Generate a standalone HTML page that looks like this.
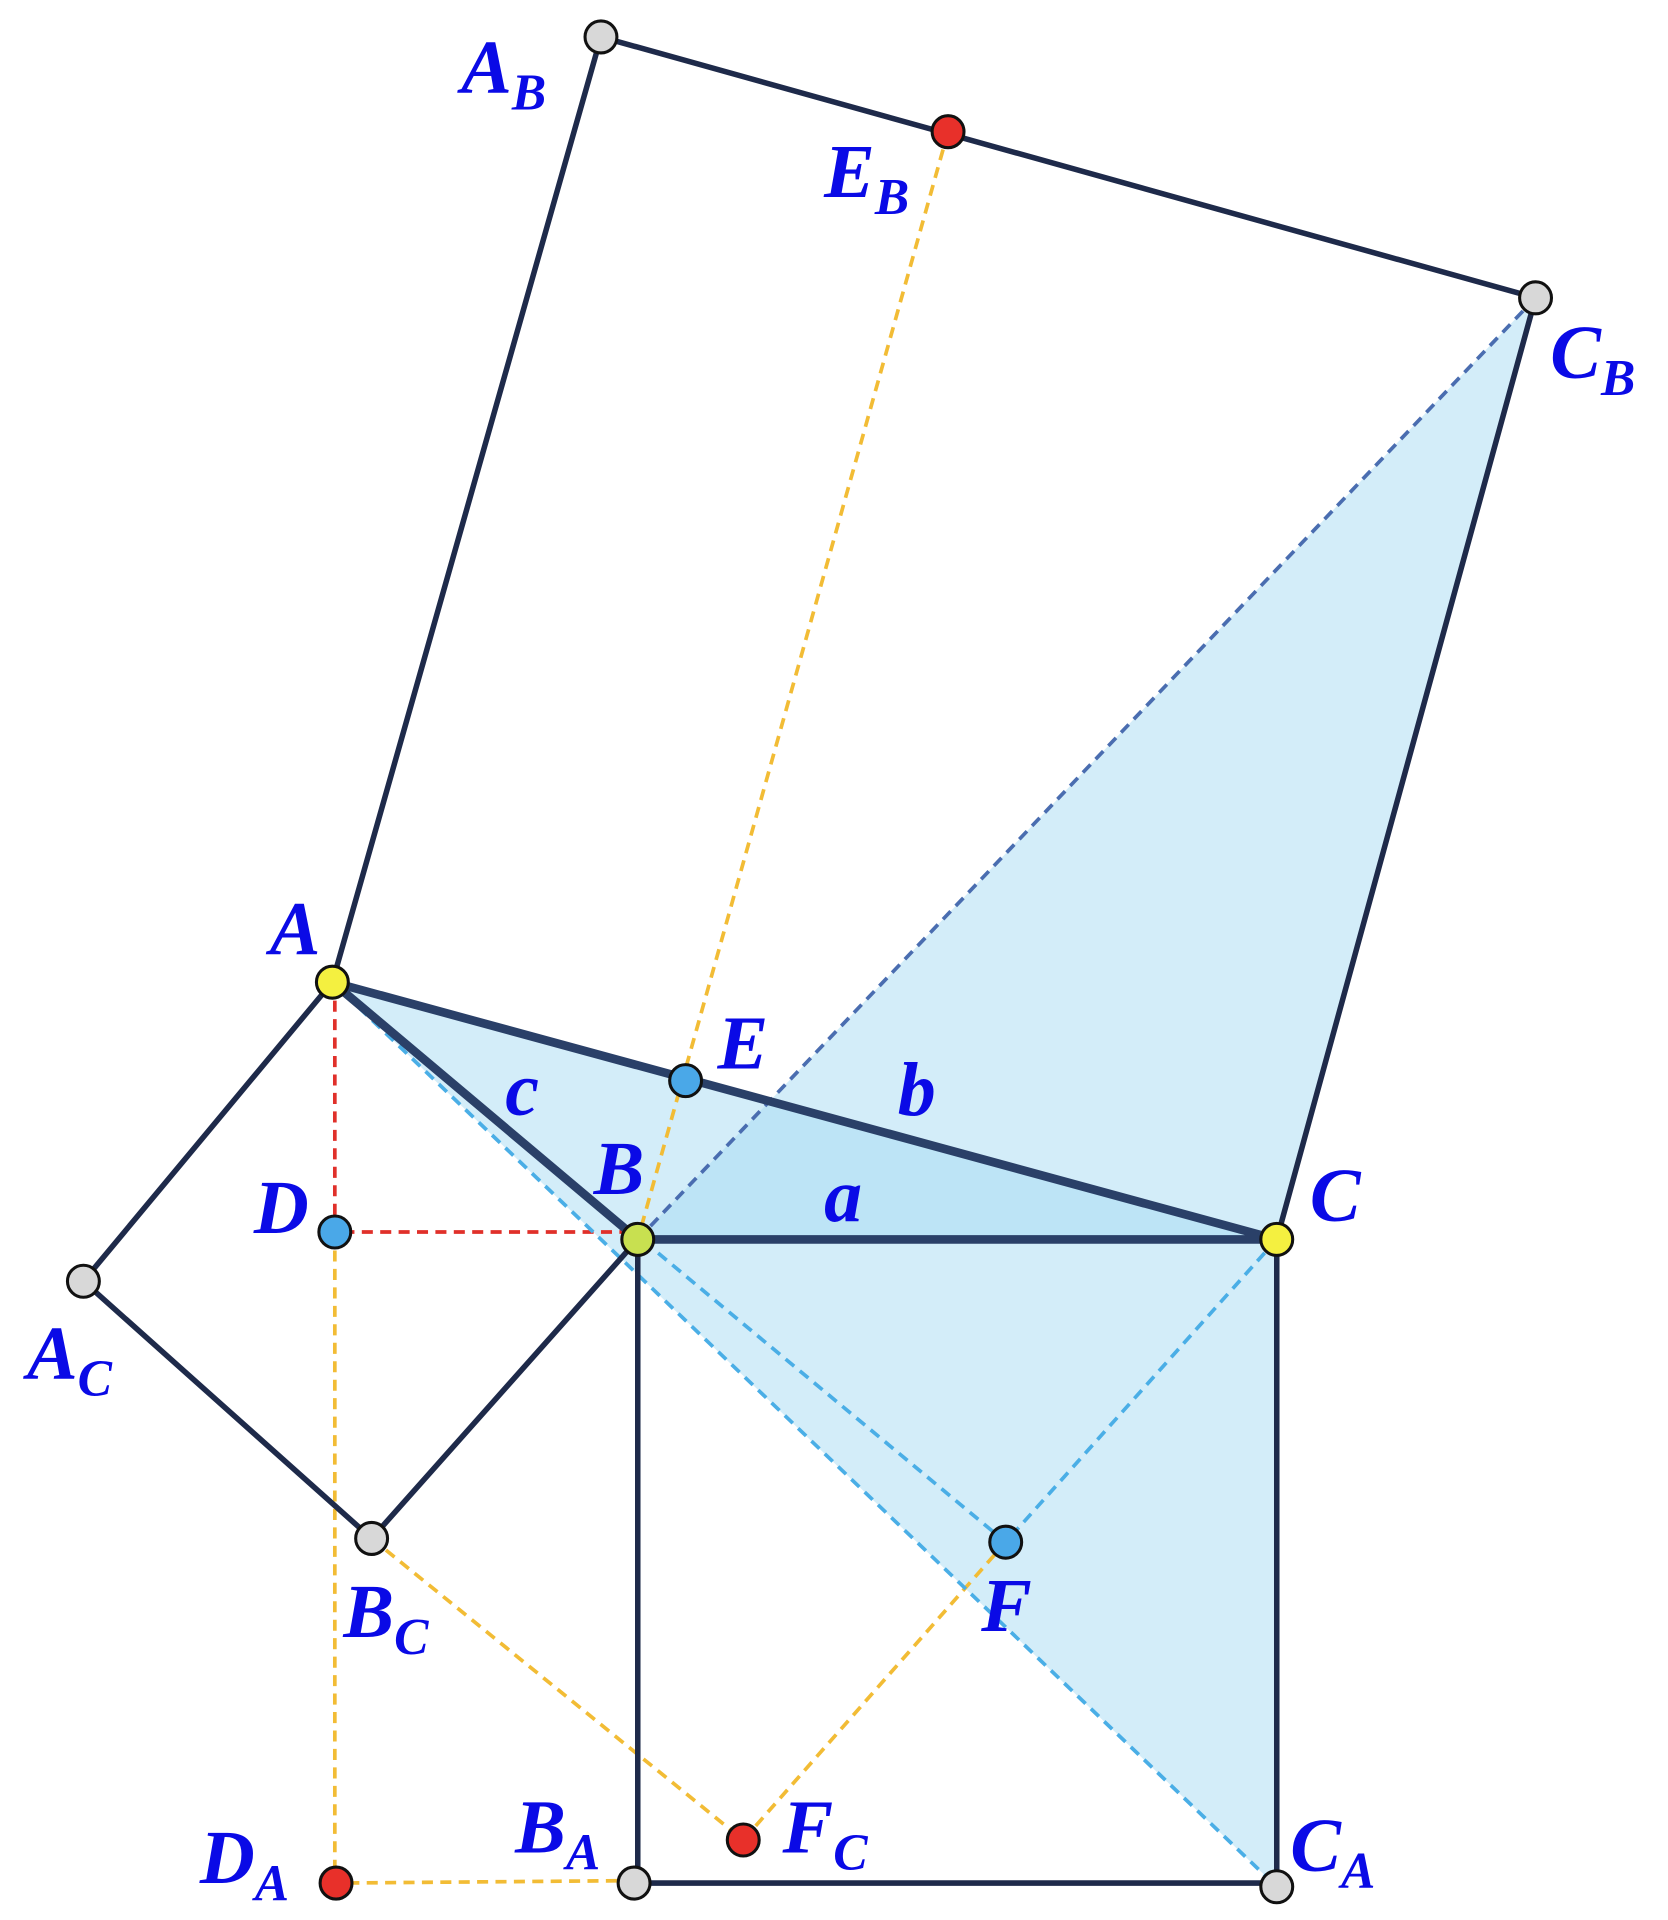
<!DOCTYPE html>
<html><head><style>html,body{margin:0;padding:0;background:#fff}svg{display:block}
text{font-family:"Liberation Serif",serif;font-style:italic;font-weight:bold;fill:#0a0ae6;font-size:62px}
tspan.s{font-size:42px}</style></head><body>
<svg width="1668" height="1920" viewBox="0 0 1360 1560" preserveAspectRatio="none" xmlns="http://www.w3.org/2000/svg">
<g fill="#a8dcf4" fill-opacity="0.5" stroke="none">
<polygon points="520,1007 1252,242 1041,1007"/>
<polygon points="271,798 1041,1007 1041,1533"/>
</g>
<g fill="none" stroke-dasharray="9,6" stroke-width="3">
<path d="M273,798 V1001 H520" stroke="#e0302a"/>
<path d="M273,1001 V1530 L517,1528 M303,1250 L606,1495 L820,1253 M773,107 L520,1007" stroke="#f2bc35"/>
<path d="M520,1007 L1252,242" stroke="#4a6db0"/>
<path d="M271,798 L820,1253 L1041,1007 M271,798 L1041,1533" stroke="#4aaee6"/>
</g>
<g fill="none" stroke="#1e2a4a" stroke-width="4.5" stroke-linejoin="round">
<path d="M271,798 L490,30 L1252,242 L1041,1007"/>
<path d="M271,798 L68,1041 L303,1250 L520,1007"/>
<path d="M520,1007 V1530 H1041 V1007"/>
</g>
<path d="M520,1007 L271,798 L1041,1007 Z" fill="none" stroke="#2a4068" stroke-width="7" stroke-linejoin="round"/>
<g stroke="#111" stroke-width="2.5">
<circle cx="490" cy="30" r="13" fill="#d8d8d8"/>
<circle cx="1252" cy="242" r="13" fill="#d8d8d8"/>
<circle cx="68" cy="1041" r="13" fill="#d8d8d8"/>
<circle cx="303" cy="1250" r="13" fill="#d8d8d8"/>
<circle cx="517" cy="1530" r="13" fill="#d8d8d8"/>
<circle cx="1041" cy="1533" r="13" fill="#d8d8d8"/>
<circle cx="773" cy="107" r="13" fill="#e8302a"/>
<circle cx="606" cy="1495" r="13" fill="#e8302a"/>
<circle cx="274" cy="1530" r="13" fill="#e8302a"/>
<circle cx="559" cy="878" r="13" fill="#4aa8e8"/>
<circle cx="273" cy="1001" r="13" fill="#4aa8e8"/>
<circle cx="820" cy="1253" r="13" fill="#4aa8e8"/>
<circle cx="271" cy="798" r="13" fill="#f4f040"/>
<circle cx="1041" cy="1007" r="13" fill="#f4f040"/>
<circle cx="520" cy="1007" r="13" fill="#c8e050"/>
</g>
<text x="376" y="75">A<tspan class="s" dy="14">B</tspan></text>
<text x="672" y="160">E<tspan class="s" dy="14">B</tspan></text>
<text x="1264" y="307">C<tspan class="s" dy="14">B</tspan></text>
<text x="220" y="775">A</text>
<text x="585" y="868">E</text>
<text x="732" y="906">b</text>
<text x="412" y="906">c</text>
<text x="484" y="970">B</text>
<text x="672" y="992">a</text>
<text x="1068" y="992">C</text>
<text x="207" y="1002">D</text>
<text x="22" y="1120">A<tspan class="s" dy="14">C</tspan></text>
<text x="280" y="1330">B<tspan class="s" dy="14">C</tspan></text>
<text x="800" y="1325">F</text>
<text x="638" y="1505">F<tspan class="s" dy="14">C</tspan></text>
<text x="420" y="1505">B<tspan class="s" dy="14">A</tspan></text>
<text x="163" y="1530">D<tspan class="s" dy="14">A</tspan></text>
<text x="1052" y="1520">C<tspan class="s" dy="14">A</tspan></text>
</svg>
</body></html>
